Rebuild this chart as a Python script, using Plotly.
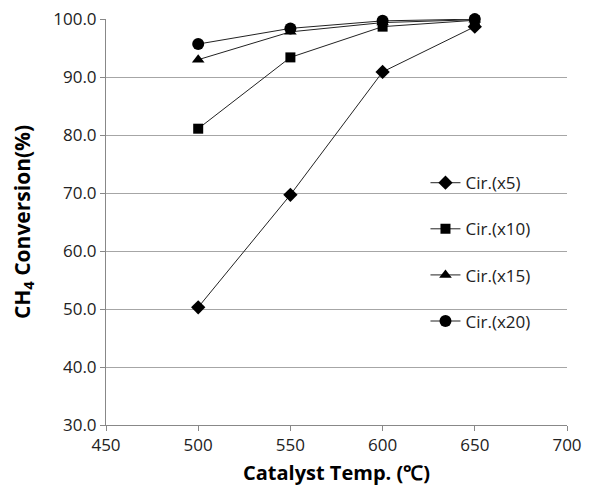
import plotly.graph_objects as go

temps = [500, 550, 600, 650]
cir_x5 = [50.3, 69.7, 90.9, 98.7]
cir_x10 = [81.1, 93.4, 98.7, 99.8]
cir_x15 = [93.0, 97.8, 99.4, 99.9]
cir_x20 = [95.7, 98.4, 99.7, 100.0]
names = ["Cir.(x5)", "Cir.(x10)", "Cir.(x15)", "Cir.(x20)"]
y_ticks = [30, 40, 50, 60, 70, 80, 90, 100]
x_ticks = [450, 500, 550, 600, 650, 700]

series = [cir_x5, cir_x10, cir_x15, cir_x20]
symbols = ["diamond", "square", "triangle-up", "circle"]
sizes = [11, 10, 11, 12]

FONT = "Open Sans"
fig = go.Figure()
for i, (nm, ys) in enumerate(zip(names, series)):
    fig.add_trace(go.Scatter(
        x=temps, y=ys, name=nm, mode="lines+markers",
        legendgroup=str(i), cliponaxis=False,
        line=dict(color="#222222", width=1),
        marker=dict(symbol=symbols[i], size=sizes[i], color="black"),
    ))

fig.update_layout(
    width=587, height=491,
    margin=dict(l=98, r=28, t=11, b=74),
    paper_bgcolor="white", plot_bgcolor="white",
    font=dict(family=FONT, size=17, color="#222222"),
    showlegend=True,
    legend=dict(x=0.693, y=0.64, xanchor="left", yanchor="top",
                tracegroupgap=21, font=dict(size=17, family=FONT),
                itemwidth=30, bgcolor="rgba(0,0,0,0)"),
    xaxis=dict(range=[450, 700], tickvals=x_ticks, ticktext=[str(v) for v in x_ticks],
               showgrid=False, showline=True, linecolor="#888888", linewidth=1,
               ticks="outside", ticklen=5, tickcolor="#888888", zeroline=False,
               automargin=False, tickfont=dict(size=17), ticklabeloverflow="allow",
               title=dict(text="<b>Catalyst Temp. (℃)</b>", font=dict(size=20, family=FONT, color="black"), standoff=10)),
    yaxis=dict(range=[30, 100.02], tickvals=y_ticks, ticktext=[f"{v:.1f}" for v in y_ticks],
               showgrid=True, gridcolor="#a6a6a6", gridwidth=1,
               showline=True, linecolor="#888888", linewidth=1,
               ticks="outside", ticklen=5, tickcolor="#888888", zeroline=False,
               automargin=False, tickfont=dict(size=17), ticklabeloverflow="allow",
               title=dict(text="<b>CH<sub>4</sub> Conversion(%)</b>", font=dict(size=21, family=FONT, color="black"), standoff=20)),
)

fig.write_html("out.html")
